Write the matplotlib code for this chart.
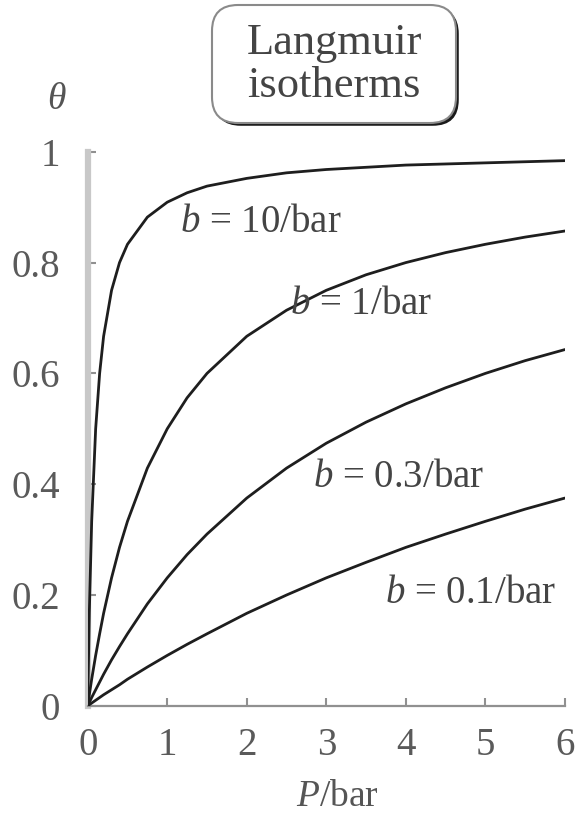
import numpy as np
import matplotlib.pyplot as plt
import matplotlib.patheffects as pe
from matplotlib.patches import FancyBboxPatch
from matplotlib.transforms import IdentityTransform

# values
pressure = [0, 0.02, 0.05, 0.1, 0.15, 0.2, 0.3, 0.4, 0.5, 0.75, 1, 1.25, 1.5,
            2, 2.5, 3, 3.5, 4, 4.5, 5, 5.5, 6]
theta_b10 = [0, 0.167, 0.333, 0.5, 0.6, 0.667, 0.75, 0.8, 0.833, 0.882, 0.909,
             0.926, 0.938, 0.952, 0.962, 0.968, 0.972, 0.976, 0.978, 0.98, 0.982, 0.984]
theta_b1 = [0, 0.02, 0.048, 0.091, 0.13, 0.167, 0.231, 0.286, 0.333, 0.429, 0.5,
            0.556, 0.6, 0.667, 0.714, 0.75, 0.778, 0.8, 0.818, 0.833, 0.846, 0.857]
theta_b03 = [0, 0.006, 0.015, 0.029, 0.043, 0.057, 0.083, 0.107, 0.13, 0.184, 0.231,
             0.273, 0.31, 0.375, 0.429, 0.474, 0.512, 0.545, 0.574, 0.6, 0.623, 0.643]
theta_b01 = [0, 0.002, 0.005, 0.01, 0.015, 0.02, 0.029, 0.038, 0.048, 0.07, 0.091,
             0.111, 0.13, 0.167, 0.2, 0.231, 0.259, 0.286, 0.31, 0.333, 0.355, 0.375]
curve_labels = ["10", "1", "0.3", "0.1"]
label_pos = [(1.16, 0.856), (2.54, 0.708), (2.83, 0.395), (3.74, 0.186)]
xticks = [0, 1, 2, 3, 4, 5, 6]
yticks = [0, 0.2, 0.4, 0.6, 0.8, 1]
ytick_labels = ["0", "0.2", "0.4", "0.6", "0.8", "1"]

plt.rcParams['font.family'] = ['Liberation Serif', 'DejaVu Serif']
plt.rcParams['mathtext.fontset'] = 'custom'
plt.rcParams['mathtext.rm'] = 'Liberation Serif'
plt.rcParams['mathtext.it'] = 'Liberation Serif:italic'

fig = plt.figure(figsize=(5.77, 8.16), dpi=100)
ax = fig.add_axes([0.152, 0.135, 0.827, 0.679])

for th in [theta_b10, theta_b1, theta_b03, theta_b01]:
    ax.plot(pressure, th, color='#1e1e1e', lw=2.0, solid_capstyle='round', zorder=3)

for lab, (x, y) in zip(curve_labels, label_pos):
    ax.text(x, y, r"$b$ = " + lab + "/bar", fontsize=28, color='#444444',
            ha='left', va='baseline')

ax.set_xlim(0, 6)
ax.set_ylim(0, 1)
ax.set_xticks(xticks)
ax.set_yticks(yticks)
ax.set_yticklabels(ytick_labels)
ax.spines['top'].set_visible(False)
ax.spines['right'].set_visible(False)
ax.spines['left'].set_color('#c8c8c8')
ax.spines['left'].set_linewidth(4.5)
ax.spines['bottom'].set_color('#909090')
ax.spines['bottom'].set_linewidth(1.6)
ax.tick_params(direction='in', length=6, width=1.5, color='#909090',
               labelsize=28, labelcolor='#5a5a5a')
ax.tick_params(axis='x', pad=15)
ax.tick_params(axis='y', pad=20)

fig.text(0.099, 0.878, r"$\theta$", fontsize=27, color='#555555', ha='center', va='center')
fig.text(0.585, 0.024, r"$P$/bar", fontsize=27, color='#555555', ha='center', va='center')

# rounded title box with dark shadow (pixel coordinates)
box = FancyBboxPatch((212, 693), 244, 118, boxstyle='round,pad=0,rounding_size=26',
                     transform=IdentityTransform(), fc='white', ec='#8a8a8a', lw=1.5)
box.set_path_effects([
    pe.SimplePatchShadow(offset=(2, -2), shadow_rgbFace='#1a1a1a', alpha=1.0),
    pe.Normal()])
fig.patches.append(box)

fig.text(0.579, 0.921, "Langmuir\nisotherms", fontsize=32, color='#444444',
         ha='center', va='center', linespacing=1.1)

fig.savefig("out.png", dpi=100)
